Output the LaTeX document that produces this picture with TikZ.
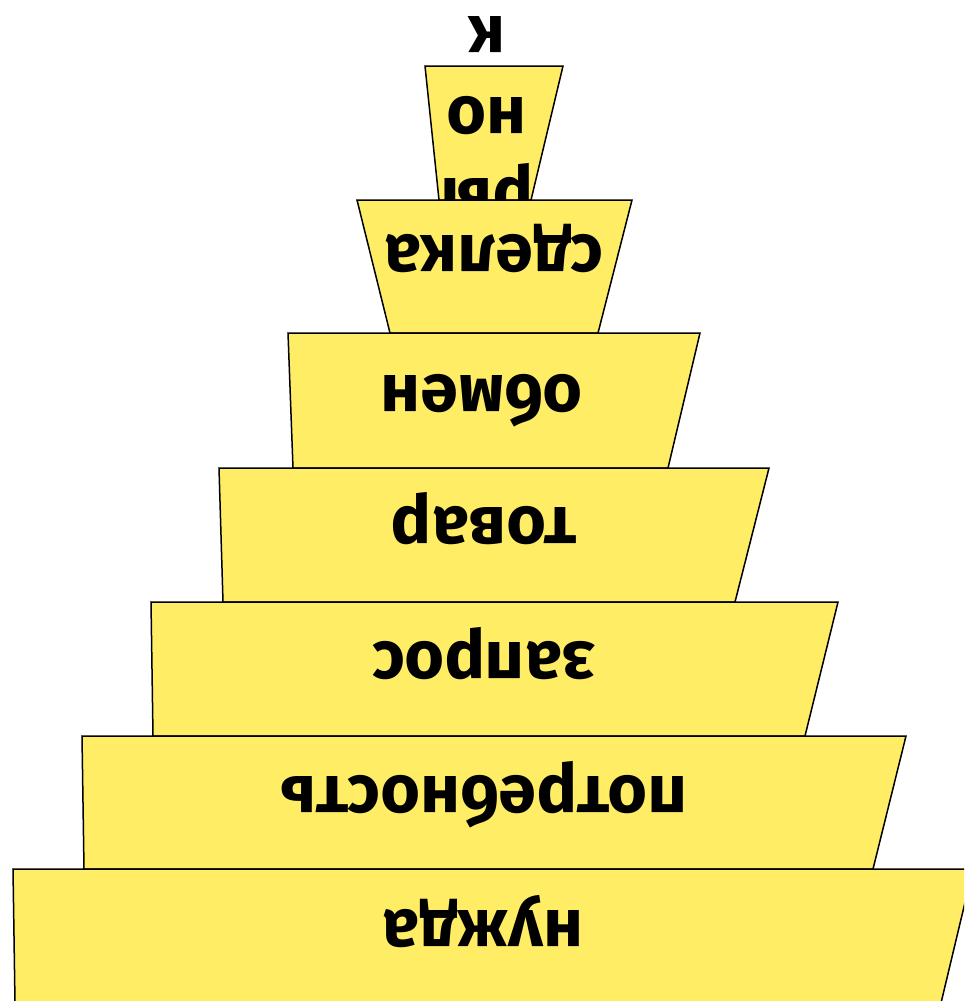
\documentclass[tikz,border=0pt]{standalone}
\usepackage{fontspec}
\setmainfont{Fira Sans}
\usepackage{xcolor}
\definecolor{layeryellow}{RGB}{255,237,102}

\begin{document}
\begin{tikzpicture}[x=1pt,y=-1pt,
    layer/.style={fill=layeryellow,draw=black,line width=1.5pt},
    word/.style={rotate=180,anchor=base,font=\fontsize{68}{81}\selectfont\bfseries}]
  \useasboundingbox (0,0) rectangle (964,1001);
  \clip (0,0) rectangle (964,1001);
  % top step, the word runs over its edges
  \draw[layer] (425,66) -- (563,66) -- (531,200) -- (439,200) -- cycle;
  \node[word,anchor=center,align=center] (rynok) at (487,116) {ры\\но\\к};
  % the other steps, top to bottom
  \foreach \yt/\yb/\tl/\tr/\bl/\br/\cx/\by/\t/\n in {
      200/333/357/632/390/598/494/235/сделка/sdelka,
      333/468/288/700/293/668/482/375/обмен/obmen,
      468/602/219/769/223/735/484/507/товар/tovar,
      602/736/151/838/153/805/484/642/запрос/zapros,
      736/869/82/906/84/873/484/776/потребность/potrebnost,
      869/1003/13/973/15/941/483/910/нужда/nuzhda} {
    \draw[layer] (\tl,\yt) -- (\tr,\yt) -- (\br,\yb) -- (\bl,\yb) -- cycle;
    \node[word] (\n) at (\cx,\by) {\t};
  }
\end{tikzpicture}
\end{document}
